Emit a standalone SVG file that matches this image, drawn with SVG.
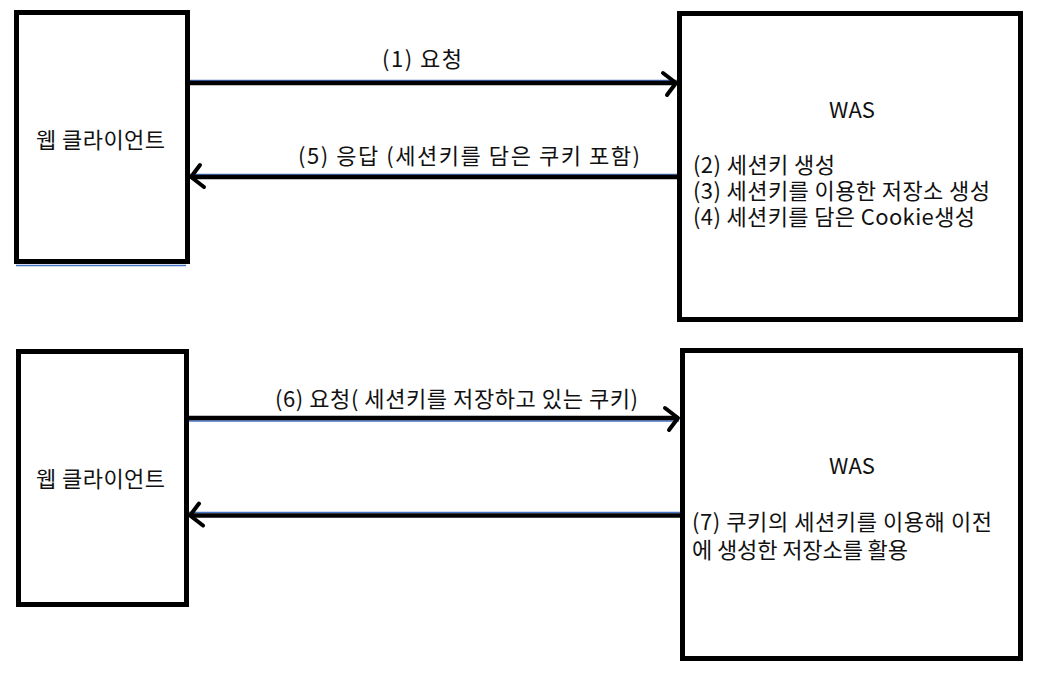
<svg xmlns="http://www.w3.org/2000/svg" width="1060" height="679" viewBox="0 0 1060 679">
<style>
.box{fill:#fff;stroke:#000;stroke-width:5}
.t{font-family:"Noto Sans CJK KR","Noto Sans",sans-serif;font-size:22px;fill:#111}
.c{text-anchor:middle}
.ln{stroke:#000;stroke-width:4.5;fill:none}
.bl{stroke:#4472c4;stroke-width:1.5;fill:none}
</style>
<defs>
<marker id="ah" markerUnits="userSpaceOnUse" viewBox="-20 -16 24 32" markerWidth="24" markerHeight="32" refX="0" refY="0" orient="auto" overflow="visible">
<path d="M -13 -10 L 0 0 L -9 12" fill="none" stroke="#000" stroke-width="4" stroke-linecap="round" stroke-linejoin="round"/>
</marker>
</defs>
<rect width="1060" height="679" fill="#fff"/>
<g id="connectors">
<line class="bl" x1="189" y1="80.5" x2="677" y2="80.5"/>
<line class="ln" x1="189" y1="83" x2="676" y2="83" marker-end="url(#ah)"/>
<line class="bl" x1="189" y1="174.5" x2="677" y2="174.5"/>
<line class="ln" x1="677" y1="177" x2="191" y2="177" marker-end="url(#ah)"/>
<line class="bl" x1="189" y1="421" x2="679" y2="421"/>
<line class="ln" x1="189" y1="418" x2="678" y2="418" marker-end="url(#ah)"/>
<line class="bl" x1="189" y1="512.5" x2="680" y2="512.5"/>
<line class="ln" x1="681" y1="515.5" x2="190" y2="515.5" marker-end="url(#ah)"/>
<line class="bl" x1="16" y1="265.5" x2="186" y2="265.5"/>
<text class="t c" x="422" y="67" textLength="80" lengthAdjust="spacing">(1) 요청</text>
<text class="t c" x="469" y="164" textLength="342" lengthAdjust="spacing">(5) 응답 (세션키를 담은 쿠키 포함)</text>
<text class="t c" x="456.5" y="407" textLength="363" lengthAdjust="spacing">(6) 요청( 세션키를 저장하고 있는 쿠키)</text>
</g>
<g id="client1">
<rect class="box" x="16.5" y="12.5" width="171" height="249"/>
<text class="t c" x="100.5" y="148" textLength="129" lengthAdjust="spacing">웹 클라이언트</text>
</g>
<g id="was1">
<rect class="box" x="679.5" y="13.5" width="341" height="306"/>
<text class="t c" x="852" y="118">WAS</text>
<text class="t" x="693" y="173" textLength="142" lengthAdjust="spacing">(2) 세션키 생성</text>
<text class="t" x="693" y="199" textLength="297" lengthAdjust="spacing">(3) 세션키를 이용한 저장소 생성</text>
<text class="t" x="693" y="225" textLength="282" lengthAdjust="spacing">(4) 세션키를 담은 Cookie생성</text>
</g>
<g id="client2">
<rect class="box" x="18.5" y="351.5" width="168" height="253"/>
<text class="t c" x="100.5" y="487" textLength="129" lengthAdjust="spacing">웹 클라이언트</text>
</g>
<g id="was2">
<rect class="box" x="682.5" y="350.5" width="338" height="308"/>
<text class="t c" x="852" y="474">WAS</text>
<text class="t" x="692" y="530" textLength="300" lengthAdjust="spacing">(7) 쿠키의 세션키를 이용해 이전</text>
<text class="t" x="692" y="558" textLength="216" lengthAdjust="spacing">에 생성한 저장소를 활용</text>
</g>
</svg>
